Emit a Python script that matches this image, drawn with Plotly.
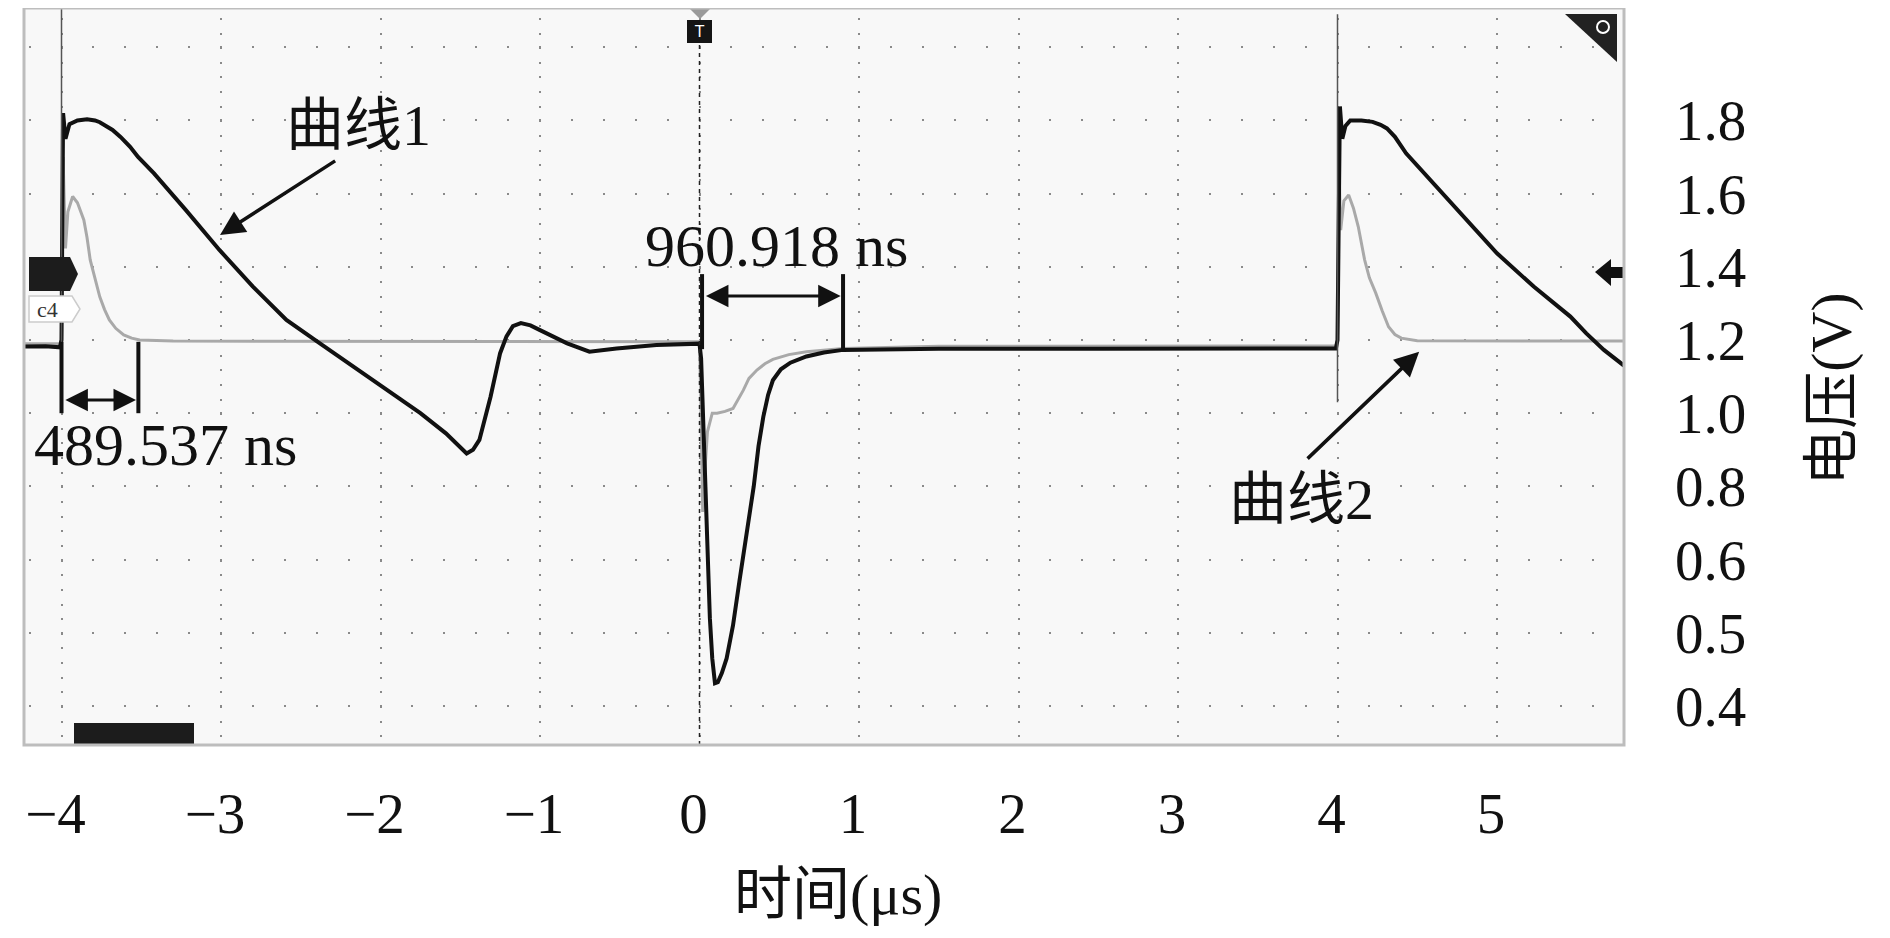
import plotly.graph_objects as go

# ── data (time in µs, voltage in the axis' linear units) ──
curve1_t = [-4.235, -4.1, -4.01, -4.0, -3.99, -3.975, -3.95, -3.90, -3.84, -3.79, -3.76, -3.72,
            -3.68, -3.63, -3.57, -3.52, -3.42, -3.22, -3.01, -2.80, -2.59, -2.38, -2.17, -1.96,
            -1.75, -1.59, -1.52, -1.46, -1.42, -1.38, -1.31, -1.25, -1.21, -1.17, -1.12, -1.06,
            -1.0, -0.83, -0.69, -0.52, -0.27, 0.0, 0.01, 0.02, 0.035, 0.05, 0.065, 0.08, 0.097,
            0.115, 0.14, 0.17, 0.21, 0.25, 0.30, 0.34, 0.37, 0.40, 0.43, 0.46, 0.51, 0.57, 0.67,
            0.78, 0.90, 1.5, 2.5, 3.5, 3.99, 4.0, 4.015, 4.03, 4.05, 4.08, 4.15, 4.22, 4.27, 4.31,
            4.36, 4.43, 4.60, 4.79, 5.0, 5.23, 5.46, 5.56, 5.67, 5.796]
curve1_v = [1.182, 1.183, 1.18, 1.2, 1.82, 1.75, 1.79, 1.80, 1.803, 1.80, 1.795, 1.785,
            1.774, 1.755, 1.728, 1.70, 1.655, 1.555, 1.446, 1.346, 1.255, 1.191, 1.127, 1.063,
            1.0, 0.945, 0.915, 0.890, 0.90, 0.927, 1.045, 1.164, 1.21, 1.238, 1.246, 1.24,
            1.227, 1.191, 1.168, 1.177, 1.186, 1.19, 1.15, 1.02, 0.80, 0.60, 0.44, 0.33, 0.262,
            0.265, 0.29, 0.33, 0.42, 0.54, 0.68, 0.80, 0.91, 0.99, 1.05, 1.09, 1.12, 1.138, 1.155,
            1.166, 1.173, 1.176, 1.176, 1.177, 1.177, 1.2, 1.838, 1.75, 1.785, 1.80, 1.80, 1.796, 1.788, 1.778,
            1.755, 1.710, 1.628, 1.537, 1.437, 1.346, 1.264, 1.218, 1.173, 1.130]

curve2_t = [-4.235, -4.01, -4.0, -3.99, -3.975, -3.96, -3.93, -3.90, -3.86, -3.84, -3.82, -3.79,
            -3.76, -3.73, -3.70, -3.66, -3.61, -3.56, -3.51, -3.3, -1.0, -0.3, 0.0, 0.01, 0.02,
            0.035, 0.05, 0.08, 0.11, 0.16, 0.21, 0.275, 0.31, 0.36, 0.41, 0.46, 0.56, 0.67, 0.90,
            1.5, 3.99, 4.0, 4.01, 4.02, 4.04, 4.07, 4.10, 4.13, 4.17, 4.20, 4.24, 4.28, 4.32, 4.36,
            4.40, 4.5, 5.0, 5.796]
curve2_v = [1.19, 1.19, 1.2, 1.70, 1.45, 1.55, 1.592, 1.575, 1.528, 1.48, 1.419, 1.365,
            1.318, 1.283, 1.255, 1.232, 1.214, 1.205, 1.2, 1.197, 1.196, 1.195, 1.195, 1.0, 0.73,
            0.85, 0.95, 1.0, 1.0, 1.005, 1.013, 1.063, 1.095, 1.118, 1.135, 1.147, 1.16, 1.168, 1.177,
            1.183, 1.184, 1.2, 1.66, 1.50, 1.58, 1.596, 1.56, 1.51, 1.419, 1.37, 1.328, 1.28, 1.236, 1.215,
            1.205, 1.198, 1.197, 1.197]

# thin edge spikes at the two rising edges
spike_t = [-4.0, 4.0]
spike_top = [2.11, 2.09]
spike_bottom = [1.18, 1.03]

x_ticks = [-4, -3, -2, -1, 0, 1, 2, 3, 4, 5]
y_tick_labels = ['1.8', '1.6', '1.4', '1.2', '1.0', '0.8', '0.6', '0.5', '0.4']

# cursor measurements: (left edge, right edge, text)
meas1 = [-4.0, -3.518, '489.537 ns']
meas2 = [0.016, 0.90, '960.918 ns']


# ── pixel -> data helpers (scope grid calibration, page pixels) ──
def tx(X):
    return (X - 699.5) / 159.5


def vy(Y):
    return 1.2 + (340 - Y) / 366


FONT = 'Liberation Serif, Noto Sans CJK SC'
fig = go.Figure()

fig.add_trace(go.Scatter(x=curve2_t, y=curve2_v, mode='lines',
                         line=dict(color='#a9a9a9', width=3), showlegend=False))
fig.add_trace(go.Scatter(x=curve1_t, y=curve1_v, mode='lines',
                         line=dict(color='#111111', width=4), showlegend=False))
for t, top, bot in zip(spike_t, spike_top, spike_bottom):
    fig.add_trace(go.Scatter(x=[t, t], y=[bot, top], mode='lines',
                             line=dict(color='#555555', width=1.5), showlegend=False))

shapes = []
# measurement bars
for m, y0, y1 in [(meas1, 1.0, 1.195), (meas2, 1.175, 1.38)]:
    for xv in m[:2]:
        shapes.append(dict(type='line', x0=xv, x1=xv, y0=y0, y1=y1, xref='x', yref='y',
                           line=dict(color='#111', width=4)))
# trigger line
shapes.append(dict(type='line', x0=0, x1=0, y0=vy(745), y1=vy(43), xref='x', yref='y',
                   line=dict(color='#222', width=1.5, dash='4px,4px')))
# trigger marker
shapes.append(dict(type='path', xref='x', yref='y', fillcolor='#9a9a9a', line=dict(width=0),
                   path=f'M{tx(689)},{vy(8)} L{tx(711)},{vy(8)} L{tx(700)},{vy(19)} Z'))
shapes.append(dict(type='rect', xref='x', yref='y', x0=tx(687), x1=tx(712), y0=vy(43), y1=vy(20),
                   fillcolor='#151515', line=dict(width=0)))
# top-right corner icon
shapes.append(dict(type='path', xref='x', yref='y', fillcolor='#222', line=dict(width=0),
                   path=f'M{tx(1565)},{vy(14)} L{tx(1617)},{vy(14)} L{tx(1617)},{vy(62)} Z'))
shapes.append(dict(type='circle', xref='x', yref='y', x0=tx(1597), x1=tx(1609), y0=vy(33), y1=vy(21),
                   line=dict(color='white', width=2)))
# right-side level arrow
shapes.append(dict(type='path', xref='x', yref='y', fillcolor='#111', line=dict(width=0),
                   path=(f'M{tx(1595)},{vy(272)} L{tx(1611)},{vy(259)} L{tx(1611)},{vy(267)} '
                         f'L{tx(1623)},{vy(267)} L{tx(1623)},{vy(278)} L{tx(1611)},{vy(278)} '
                         f'L{tx(1611)},{vy(286)} Z')))
# channel marker + c4 tag on the left
shapes.append(dict(type='path', xref='x', yref='y', fillcolor='#1c1c1c', line=dict(width=0),
                   path=(f'M{tx(29)},{vy(257)} L{tx(70)},{vy(257)} L{tx(78)},{vy(274)} '
                         f'L{tx(70)},{vy(291)} L{tx(29)},{vy(291)} Z')))
shapes.append(dict(type='path', xref='x', yref='y', fillcolor='white', line=dict(color='#cccccc', width=1.5),
                   path=(f'M{tx(29)},{vy(296)} L{tx(72)},{vy(296)} L{tx(80)},{vy(309)} '
                         f'L{tx(72)},{vy(322)} L{tx(29)},{vy(322)} Z')))
# bottom-left bar
shapes.append(dict(type='rect', xref='x', yref='y', x0=tx(74), x1=tx(194), y0=vy(745), y1=vy(723),
                   fillcolor='#1c1c1c', line=dict(width=0)))
# frame
shapes.append(dict(type='rect', xref='paper', yref='paper', x0=0, x1=1, y0=0, y1=1,
                   line=dict(color='#bdbdbd', width=3)))

annotations = [
    dict(x=-2.141, y=1.787, text='曲线1', showarrow=False, font=dict(size=58)),
    dict(x=-3.006, y=1.487, ax=-2.275, ay=1.692, axref='x', ayref='y', text='',
         showarrow=True, arrowhead=2, arrowsize=1.4, arrowwidth=3.5, arrowcolor='#111'),
    dict(x=3.777, y=0.763, text='曲线2', showarrow=False, font=dict(size=58)),
    dict(x=4.512, y=1.168, ax=3.803, ay=0.872, axref='x', ayref='y', text='',
         showarrow=True, arrowhead=2, arrowsize=1.4, arrowwidth=3.5, arrowcolor='#111'),
    dict(x=-3.351, y=0.913, text=meas1[2], showarrow=False, font=dict(size=60)),
    dict(x=meas1[1] - 0.015, y=1.036, ax=meas1[0] + 0.015, ay=1.036, axref='x', ayref='y', text='',
         showarrow=True, arrowhead=2, arrowside='end+start', arrowsize=1.5, arrowwidth=3, arrowcolor='#111'),
    dict(x=0.48, y=1.457, text=meas2[2], showarrow=False, font=dict(size=60)),
    dict(x=meas2[1] - 0.015, y=1.32, ax=meas2[0] + 0.015, ay=1.32, axref='x', ayref='y', text='',
         showarrow=True, arrowhead=2, arrowside='end+start', arrowsize=1.5, arrowwidth=3, arrowcolor='#111'),
    dict(x=tx(699.5), y=vy(31.5), text='T', showarrow=False, font=dict(size=15, color='white', family='DejaVu Sans')),
    dict(x=tx(47), y=vy(309), text='c4', showarrow=False, font=dict(size=22, color='#333')),
    dict(x=0.509, y=-0.25, xref='paper', yref='paper', text='时间(μs)', showarrow=False, font=dict(size=58)),
    dict(x=1.151, y=0.483, xref='paper', yref='paper', text='电压(V)', textangle=-90,
         showarrow=False, font=dict(size=57)),
]
for a in annotations:
    a.setdefault('xref', 'x')
    a.setdefault('yref', 'y')

# the page body adds an 8px offset, so the figure is 8px smaller and margins shifted
fig.update_layout(
    width=1882, height=930, autosize=False,
    margin=dict(l=16, r=266, t=0, b=193),
    paper_bgcolor='white', plot_bgcolor='#f8f8f8',
    font=dict(family=FONT, size=57, color='#111'),
    shapes=shapes, annotations=annotations,
)

fig.update_xaxes(
    range=[tx(24), tx(1624)], tickvals=x_ticks, ticks='', zeroline=False,
    showgrid=True, gridcolor='#8a8a8a', gridwidth=2, griddash='0px,9.9px,2px,2.74px',
    ticklabelstandoff=30, ticklabelshift=-6, tickfont=dict(size=57),
)
fig.update_yaxes(
    side='right', range=[vy(745), vy(8)],
    tickvals=[2.0] + [1.8 - 0.2 * i for i in range(len(y_tick_labels))],
    ticktext=[''] + y_tick_labels, ticks='', zeroline=False,
    showgrid=True, gridcolor='#8a8a8a', gridwidth=2, griddash='0px,4.6px,2px,25.3px',
    ticklabelstandoff=50, tickfont=dict(size=57),
)

fig.write_html('out.html')
